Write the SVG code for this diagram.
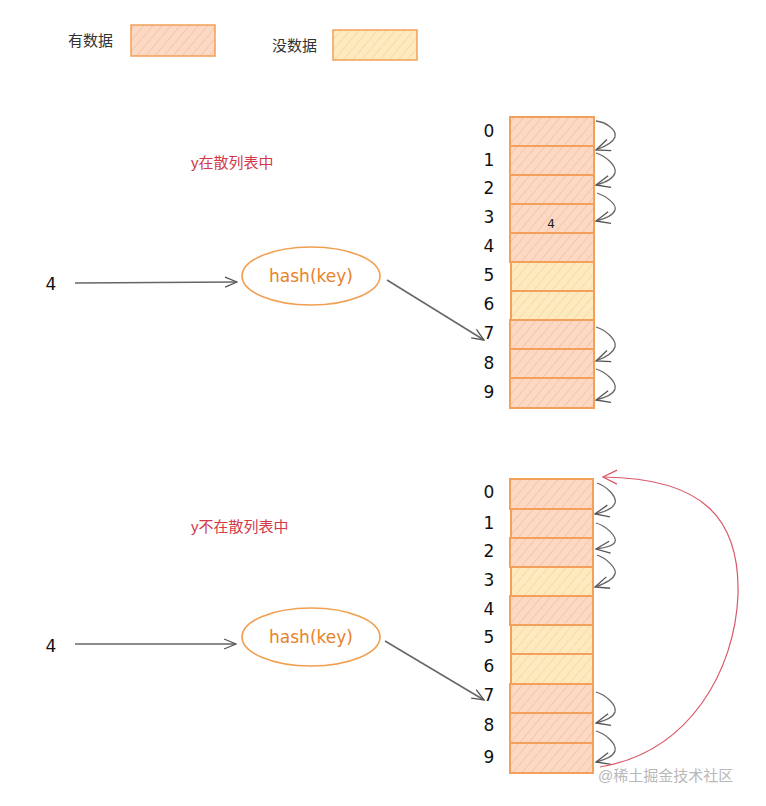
<svg xmlns="http://www.w3.org/2000/svg" width="766" height="806" viewBox="0 0 766 806">
<defs>
<pattern id="hatchA" patternUnits="userSpaceOnUse" width="7" height="7" patternTransform="rotate(40)">
<rect width="7" height="7" fill="#fcd9c4"/>
<line x1="0" y1="0" x2="0" y2="7" stroke="#f7bd9a" stroke-width="1.4"/>
</pattern>
<pattern id="hatchB" patternUnits="userSpaceOnUse" width="7" height="7" patternTransform="rotate(40)">
<rect width="7" height="7" fill="#fdeac0"/>
<line x1="0" y1="0" x2="0" y2="7" stroke="#f9d590" stroke-width="1.4"/>
</pattern>
<marker id="arr" viewBox="0 0 14 12" refX="13" refY="6" markerWidth="14" markerHeight="12" markerUnits="userSpaceOnUse" orient="auto">
<path d="M1,1 L13,6 L1,11" fill="none" stroke="#555" stroke-width="1.3"/>
</marker>
<marker id="loop" viewBox="0 0 16 14" refX="15" refY="7" markerWidth="16" markerHeight="14" markerUnits="userSpaceOnUse" orient="auto">
<path d="M1,1 L15,7 L1,13" fill="none" stroke="#555" stroke-width="1.3"/>
</marker>
<marker id="red" viewBox="0 0 16 16" refX="15" refY="8" markerWidth="16" markerHeight="16" markerUnits="userSpaceOnUse" orient="auto">
<path d="M1,1 L15,8 L1,15" fill="none" stroke="#d9596a" stroke-width="1.2"/>
</marker>
</defs>
<style>
.full{fill:url(#hatchA);stroke:#f2a05a;stroke-width:2}
.empty{fill:url(#hatchB);stroke:#f2a05a;stroke-width:2}
.lbl{font-family:"Liberation Sans","Noto Sans CJK SC",sans-serif;font-size:15px;fill:#333}
.red{font-family:"Liberation Sans","Noto Sans CJK SC",sans-serif;font-size:15px;fill:#d23a4a}
.idx{font-family:"DejaVu Sans",sans-serif;font-size:17px;fill:#111;text-anchor:middle}
.hash{font-family:"DejaVu Sans",sans-serif;font-size:17px;fill:#e8822a;text-anchor:middle}
.ell{fill:none;stroke:#f0a050;stroke-width:1.6}
.conn{fill:none;stroke:#666;stroke-width:1.5;marker-end:url(#arr)}
.lp{fill:none;stroke:#666;stroke-width:1.3;marker-end:url(#loop)}
.redarc{fill:none;stroke:#d9596a;stroke-width:1.2;marker-end:url(#red)}
.wm{font-family:"Liberation Sans","Noto Sans CJK SC",sans-serif;font-size:15px;fill:#b8b8b8}
</style>

<g id="legend">
<text class="lbl" x="68" y="46">有数据</text>
<rect class="full" x="131" y="25" width="84" height="31" style="stroke-width:1.5"/>
<text class="lbl" x="272" y="51">没数据</text>
<rect class="empty" x="333" y="30" width="84" height="30" style="stroke-width:1.5"/>
</g>

<g id="top-title"><text class="red" x="191" y="168">y在散列表中</text></g>
<g id="top-input"><text class="idx" x="51" y="290">4</text></g>
<g id="top-hash">
<ellipse class="ell" cx="311" cy="276" rx="69" ry="29"/>
<text class="hash" x="311" y="282">hash(key)</text>
</g>

<g id="top-array">
<rect class="full" x="510" y="117" width="84" height="29"/>
<rect class="full" x="510" y="146" width="84" height="29"/>
<rect class="full" x="510" y="175" width="84" height="29"/>
<rect class="full" x="510" y="204" width="84" height="29"/>
<rect class="full" x="510" y="233" width="84" height="29"/>
<rect class="empty" x="511" y="262" width="83" height="29"/>
<rect class="empty" x="511" y="291" width="83" height="29"/>
<rect class="full" x="510" y="320" width="84" height="29"/>
<rect class="full" x="510" y="349" width="84" height="29"/>
<rect class="full" x="510" y="378" width="84" height="30"/>
<text x="551" y="228" style="font-family:'DejaVu Sans',sans-serif;font-size:12px;fill:#222;text-anchor:middle">4</text>
<g>
<text class="idx" x="489" y="137">0</text>
<text class="idx" x="489" y="166">1</text>
<text class="idx" x="489" y="194">2</text>
<text class="idx" x="489" y="223">3</text>
<text class="idx" x="489" y="252">4</text>
<text class="idx" x="489" y="281">5</text>
<text class="idx" x="489" y="310">6</text>
<text class="idx" x="489" y="339">7</text>
<text class="idx" x="489" y="369">8</text>
<text class="idx" x="489" y="398">9</text>
</g>
</g>

<g id="bottom-title"><text class="red" x="191" y="532">y不在散列表中</text></g>
<g id="bottom-input"><text class="idx" x="51" y="652">4</text></g>
<g id="bottom-hash">
<ellipse class="ell" cx="311" cy="637" rx="69" ry="29"/>
<text class="hash" x="311" y="643">hash(key)</text>
</g>

<g id="bottom-array">
<rect class="full" x="510" y="479" width="83" height="30"/>
<rect class="full" x="511" y="509" width="82" height="29"/>
<rect class="full" x="510" y="538" width="83" height="29"/>
<rect class="empty" x="511" y="567" width="82" height="29"/>
<rect class="full" x="510" y="596" width="83" height="29"/>
<rect class="empty" x="511" y="625" width="82" height="29"/>
<rect class="empty" x="511" y="654" width="82" height="30"/>
<rect class="full" x="510" y="684" width="83" height="29"/>
<rect class="full" x="510" y="713" width="83" height="30"/>
<rect class="full" x="510" y="743" width="83" height="30"/>
<g>
<text class="idx" x="489" y="498">0</text>
<text class="idx" x="489" y="529">1</text>
<text class="idx" x="489" y="557">2</text>
<text class="idx" x="489" y="586">3</text>
<text class="idx" x="489" y="615">4</text>
<text class="idx" x="489" y="643">5</text>
<text class="idx" x="489" y="672">6</text>
<text class="idx" x="489" y="701">7</text>
<text class="idx" x="489" y="731">8</text>
<text class="idx" x="489" y="763">9</text>
</g>
</g>

<g id="connectors">
<path class="conn" d="M75,283 L237,282"/>
<path class="conn" d="M387,280 L484,340"/>
<path class="conn" d="M75,644 L236,644"/>
<path class="conn" d="M385,641 L484,700"/>

<path class="lp" d="M596,121 C606,122 617,130 615,137 C613,143 604,147 596,150"/>
<path class="lp" d="M596,153 C606,156 617,166 615,173 C613,179 604,183 596,185"/>
<path class="lp" d="M597,193 C606,196 617,204 615,210 C613,216 604,219 596,221"/>
<path class="lp" d="M596,327 C606,330 617,340 615,347 C613,354 604,358 596,361"/>
<path class="lp" d="M596,369 C606,372 617,382 615,389 C613,395 604,398 596,400"/>

<path class="lp" d="M597,483 C606,486 617,496 615,503 C613,509 604,512 595,514"/>
<path class="lp" d="M596,523 C606,526 617,536 615,542 C613,546 604,548 596,549"/>
<path class="lp" d="M597,555 C606,558 617,568 615,574 C613,580 604,584 595,587"/>
<path class="lp" d="M596,692 C606,695 617,705 615,712 C613,718 604,721 596,723"/>
<path class="lp" d="M596,731 C606,734 617,744 615,751 C613,757 604,760 596,762"/>

<path class="redarc" d="M600,767 C690,752 735,670 738,595 C740,520 705,478 603,477"/>
</g>

<text class="wm" x="598" y="781">@稀土掘金技术社区</text>
</svg>
